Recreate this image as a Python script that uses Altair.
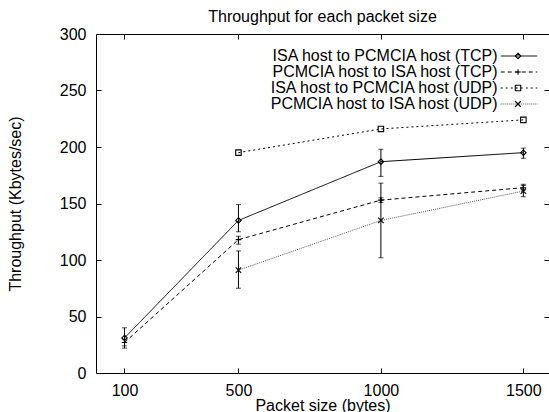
import altair as alt
import pandas as pd

FONT = "Liberation Sans"

# ---- data ----
packet_sizes = [100, 500, 1000, 1500]
series_names = [
    "ISA host to PCMCIA host (TCP)",
    "PCMCIA host to ISA host (TCP)",
    "ISA host to PCMCIA host (UDP)",
    "PCMCIA host to ISA host (UDP)",
]
isa_pc_tcp = [31, 135, 187, 195]
isa_pc_tcp_low = [22, 125, 174, 190]
isa_pc_tcp_high = [40, 149, 198, 199]

pc_isa_tcp = [27, 118, 153, 164]
pc_isa_tcp_low = [24, 114, 151, 162]
pc_isa_tcp_high = [30, 121, 155, 167]

isa_pc_udp = [None, 195, 216, 224]
isa_pc_udp_low = [None, None, None, None]
isa_pc_udp_high = [None, None, None, None]

pc_isa_udp = [None, 91, 135, 161]
pc_isa_udp_low = [None, 75, 102, 156]
pc_isa_udp_high = [None, 108, 168, 166]

y_ticks = [0, 50, 100, 150, 200, 250, 300]

# ---- styles ----
line_colors = ["#000000", "#000000", "#000000", "#555555"]
line_dashes = [[1, 0], [4, 3], [2, 3], [1, 1]]
marker_paths = [
    "M0,-1L1,0L0,1L-1,0Z",
    "M-1,0L1,0M0,-1L0,1",
    "M-1,-1L1,-1L1,1L-1,1Z",
    "M-1,-1L1,1M-1,1L1,-1",
]
legend_line_path = "M-4.5,0L4.5,0"

W, H = 453, 339


def ex(v):
    return {"expr": str(v)}


# marker keys differ from the line keys so that the two legends stay separate
marker_keys = [n + " " for n in series_names]

rows = []
err_rows = []
for name, mkey, vals, lows, highs in zip(
    series_names, marker_keys,
    [isa_pc_tcp, pc_isa_tcp, isa_pc_udp, pc_isa_udp],
    [isa_pc_tcp_low, pc_isa_tcp_low, isa_pc_udp_low, pc_isa_udp_low],
    [isa_pc_tcp_high, pc_isa_tcp_high, isa_pc_udp_high, pc_isa_udp_high],
):
    for s, v, lo, hi in zip(packet_sizes, vals, lows, highs):
        if v is None:
            continue
        rows.append({"series": name, "series_m": mkey, "size": s, "value": v})
        if lo is not None:
            err_rows.append({"series": name, "size": s, "low": lo, "high": hi})

df = pd.DataFrame(rows)
err_df = pd.DataFrame(err_rows)

x_scale = alt.Scale(domain=[0, 1590], nice=False, zero=False)
y_scale = alt.Scale(domain=[0, 300], nice=False)

x_main = alt.Axis(
    orient="bottom", values=packet_sizes, format="d", grid=False, ticks=False, tickSize=0,
    labelPadding=9, labelFontSize=16, labelFlush=False, labelOverlap=False,
    titleFontSize=16, titleFontWeight="normal", titleX=W / 2, titleY=24,
    titleBaseline="top", titleAlign="center", domainColor="black", domainWidth=1,
)
y_main = alt.Axis(
    orient="left", values=y_ticks, grid=False, ticks=False, tickSize=0,
    labelPadding=10, labelFontSize=16, labelFlush=False, labelOverlap=False,
    titleFontSize=16, titleFontWeight="normal", titleX=ex(-73), titleY=H / 2,
    titleBaseline="bottom", titleAlign="center", titleAngle=270,
    domainColor="black", domainWidth=1,
)

leg_common = dict(
    orient="none", labelAlign="right", labelFontSize=16, labelFont=FONT,
    labelColor="black", labelLimit=400, padding=0, symbolOffset=0, legendY=14,
)
# tighter rows, as in the reference key (fall back if the schema refuses it)
try:
    alt.Legend(rowPadding=-2.7)
    leg_common["rowPadding"] = -2.7
except Exception:
    leg_common["rowPadding"] = 0

leg_lines = alt.Legend(
    legendX=415, symbolType=legend_line_path, symbolSize=66,
    symbolStrokeWidth=1, labelOffset=ex(-29.5), **leg_common,
)
leg_marks = alt.Legend(
    legendX=414, symbolSize=30, symbolStrokeWidth=1.1,
    symbolStrokeColor="black", symbolFillColor="transparent",
    labelOffset=ex(-29.5), labelOpacity=0, **leg_common,
)

base = alt.Chart(df)

lines = base.mark_line(strokeWidth=1).encode(
    x=alt.X("size:Q", scale=x_scale, axis=x_main, title="Packet size (bytes)"),
    y=alt.Y("value:Q", scale=y_scale, axis=y_main, title="Throughput (Kbytes/sec)"),
    color=alt.Color("series:N", scale=alt.Scale(domain=series_names, range=line_colors),
                    legend=leg_lines, title=None),
    strokeDash=alt.StrokeDash("series:N", scale=alt.Scale(domain=series_names, range=line_dashes),
                              legend=leg_lines, title=None),
)

err_base = alt.Chart(err_df)
err_rules = err_base.mark_rule(color="black", strokeWidth=1).encode(
    x=alt.X("size:Q", scale=x_scale, axis=None),
    y=alt.Y("low:Q", scale=y_scale, axis=None),
    y2="high:Q",
)
err_low = err_base.mark_tick(orient="horizontal", size=5, thickness=1, color="black").encode(
    x=alt.X("size:Q", scale=x_scale, axis=None),
    y=alt.Y("low:Q", scale=y_scale, axis=None),
)
err_high = err_base.mark_tick(orient="horizontal", size=5, thickness=1, color="black").encode(
    x=alt.X("size:Q", scale=x_scale, axis=None),
    y=alt.Y("high:Q", scale=y_scale, axis=None),
)

points = base.mark_point(filled=False, color="black", strokeWidth=1.1, size=30, opacity=1).encode(
    x=alt.X("size:Q", scale=x_scale, axis=None),
    y=alt.Y("value:Q", scale=y_scale, axis=None),
    shape=alt.Shape("series_m:N", scale=alt.Scale(domain=marker_keys, range=marker_paths),
                    legend=leg_marks, title=None),
)

# inward tick marks: bottom + left
carrier_a = base.mark_point(opacity=0).encode(
    x=alt.X("size:Q", scale=x_scale, title="", axis=alt.Axis(
        orient="top", offset=ex(-H), labels=False, domain=False, ticks=True, tickSize=5,
        tickColor="black", grid=False, values=packet_sizes)),
    y=alt.Y("value:Q", scale=y_scale, title="", axis=alt.Axis(
        orient="right", offset=ex(-W), labels=False, domain=False, ticks=True, tickSize=5,
        tickColor="black", grid=False, values=y_ticks)),
)
# top border with inward ticks, right-side inward ticks
carrier_b = base.mark_point(opacity=0).encode(
    x=alt.X("size:Q", scale=x_scale, title="", axis=alt.Axis(
        orient="bottom", offset=ex(-H), labels=False, domain=True, domainColor="black",
        ticks=True, tickSize=5, tickColor="black", grid=False, values=packet_sizes)),
    y=alt.Y("value:Q", scale=y_scale, title="", axis=alt.Axis(
        orient="left", offset=ex(-W), labels=False, domain=False, ticks=True, tickSize=5,
        tickColor="black", grid=False, values=y_ticks)),
)

chart = (
    alt.layer(lines, err_rules, err_low, err_high, points, carrier_a, carrier_b)
    .resolve_axis(x="independent", y="independent")
    .properties(
        width=W, height=H,
        autosize=alt.AutoSizeParams(type="none"),
        padding={"left": 96, "top": 34, "right": 0, "bottom": 39},
        title=alt.TitleParams(
            "Throughput for each packet size", fontSize=16, fontWeight="normal",
            font=FONT, color="black", anchor="middle", offset=11, baseline="alphabetic",
            dy=23,
        ),
        background="white",
    )
    .configure(font=FONT)
    .configure_view(stroke="transparent")
    .configure_axis(labelFont=FONT, titleFont=FONT, labelColor="black", titleColor="black",
                    tickColor="black", domainColor="black")
)

chart.save("out.html", embed_options={"renderer": "svg", "actions": False})
